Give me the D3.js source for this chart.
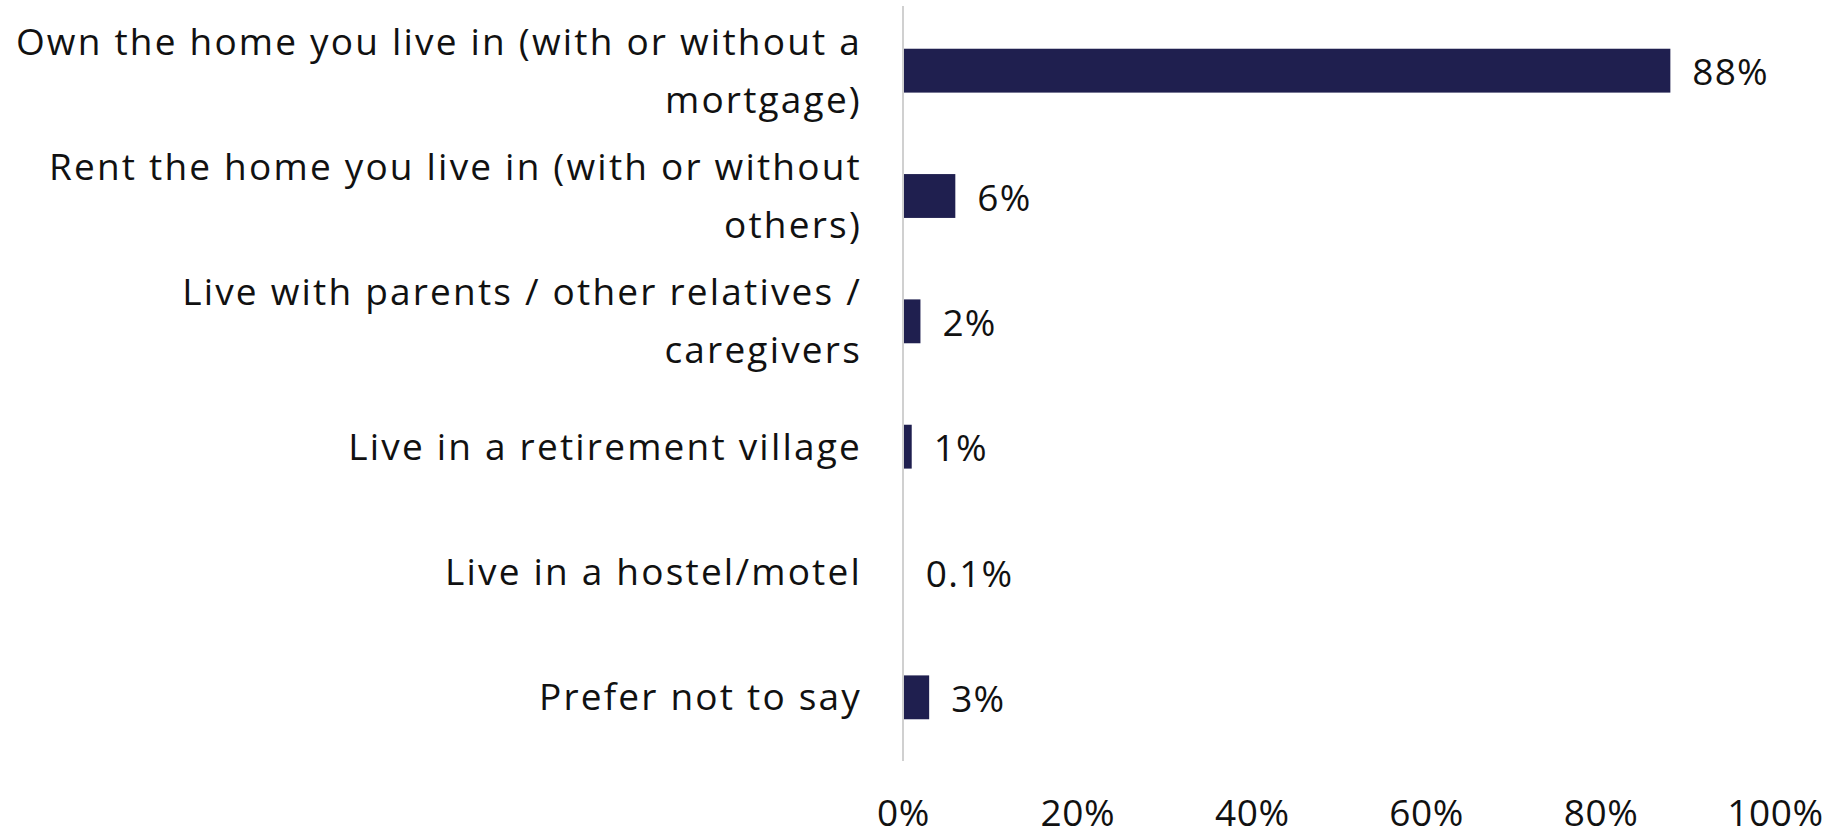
<!DOCTYPE html>
<html>
<head>
<meta charset="utf-8">
<script src="https://cdn.jsdelivr.net/npm/d3@7"></script>
<style>
  html, body { margin: 0; padding: 0; background: #ffffff; }
  svg { display: block; }
  text { font-family: "Open Sans", "Noto Sans", sans-serif; fill: #111111; }
</style>
</head>
<body>
<svg id="chart" width="1823" height="838"></svg>
<script>
const categories = [
  "Own the home you live in (with or without a\nmortgage)",
  "Rent the home you live in (with or without\nothers)",
  "Live with parents / other relatives /\ncaregivers",
  "Live in a retirement village",
  "Live in a hostel/motel",
  "Prefer not to say"
];
const values = [0.88, 0.06, 0.02, 0.01, 0.001, 0.03];
const valueLabels = ["88%", "6%", "2%", "1%", "0.1%", "3%"];
const tickValues = [0, 0.2, 0.4, 0.6, 0.8, 1.0];
const tickLabels = ["0%", "20%", "40%", "60%", "80%", "100%"];

const svg = d3.select("#chart");
const fontSize = 37;
const letterSp = 2.2;
const barColor = "#1f1f4f";

const x = d3.scaleLinear().domain([0, 1]).range([903, 1775]);
const y = d3.scaleBand().domain(categories).range([8, 760]).paddingInner(0.65).paddingOuter(0.325);

// bars
svg.append("g").selectAll("rect").data(values).join("rect")
  .attr("x", x(0))
  .attr("y", (d, i) => y(categories[i]))
  .attr("width", d => x(d) - x(0))
  .attr("height", y.bandwidth())
  .attr("fill", barColor);

// vertical axis line
svg.append("line")
  .attr("x1", x(0)).attr("x2", x(0))
  .attr("y1", 6).attr("y2", 761)
  .attr("stroke", "#d0d0d0").attr("stroke-width", 2);

// category labels
const lineH = 58;
const catG = svg.append("g");
categories.forEach((c, i) => {
  const lines = c.split("\n");
  const cy = y(c) + y.bandwidth() / 2 - 2;
  const t = catG.append("text")
    .attr("text-anchor", "end")
    .attr("font-size", fontSize)
    .attr("letter-spacing", letterSp)
    .attr("dominant-baseline", "central");
  lines.forEach((ln, j) => {
    t.append("tspan")
      .attr("x", 862)
      .attr("y", cy + (j - (lines.length - 1) / 2) * lineH)
      .text(ln);
  });
});

// value labels
svg.append("g").selectAll("text").data(values).join("text")
  .attr("x", d => x(d) + 22)
  .attr("y", (d, i) => y(categories[i]) + y.bandwidth() / 2)
  .attr("dominant-baseline", "central")
  .attr("font-size", fontSize)
  .attr("letter-spacing", 1.2)
  .text((d, i) => valueLabels[i]);

// x axis tick labels
const axis = d3.axisBottom(x).tickValues(tickValues).tickFormat((d, i) => tickLabels[i]).tickSize(0).tickPadding(0);
const ag = svg.append("g").attr("transform", "translate(0,800)").call(axis);
ag.select(".domain").remove();
ag.selectAll("text")
  .attr("font-size", fontSize)
  .attr("letter-spacing", 0.6)
  .attr("font-family", "'Open Sans', 'Noto Sans', sans-serif")
  .attr("fill", "#111111")
  .attr("dy", null)
  .attr("y", 11)
  .attr("dominant-baseline", "central");
</script>
</body>
</html>
